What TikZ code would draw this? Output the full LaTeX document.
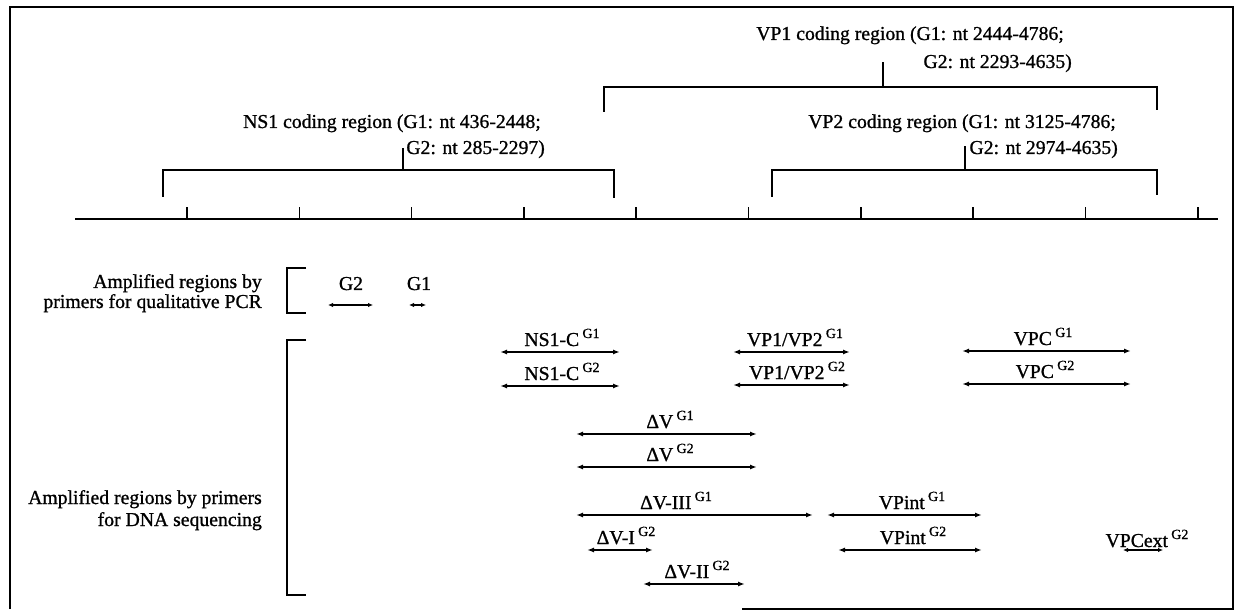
\documentclass[tikz,border=0pt]{standalone}
\usepackage{fontspec}
\setmainfont{Liberation Serif}[FakeBold=1]
\usetikzlibrary{arrows.meta}
\newcommand\gs[1]{\,\raisebox{8pt}{\fontsize{14pt}{14pt}\selectfont #1}}
\begin{document}
\begin{tikzpicture}[x=1pt,y=-1pt,
  txt/.style={font=\fontsize{19.7pt}{24pt}\selectfont, inner sep=0pt},
  lbl/.style={txt, anchor=base},
  rtxt/.style={txt, anchor=base east},
  rng/.style={line width=1.8pt, {Latex[length=7pt,width=5pt]}-{Latex[length=7pt,width=5pt]}},
  srng/.style={line width=1.8pt, {Latex[length=5pt,width=4.5pt]}-{Latex[length=5pt,width=4.5pt]}},
  brk/.style={line width=1.7pt},
  axisline/.style={line width=2.6pt},
  tick/.style={line width=1.6pt},
  frame/.style={line width=1.6pt}]
\useasboundingbox (0,0) rectangle (1237,612);

\newcommand\rarr[6]{%
  \coordinate (#1-l) at (#2,#4);
  \coordinate (#1-r) at (#3,#4);
  \draw[rng] (#1-l) -- (#1-r);
  \node[lbl] (#1-t) at (#5,#4-6) {#6};
}

% frame
\coordinate (f1) at (10,609);
\coordinate (f2) at (10,7);
\coordinate (f3) at (1233,7);
\coordinate (f4) at (1233,609);
\coordinate (f5) at (742,609);
\draw[frame] (f1) -- (f2) -- (f3) -- (f4) -- (f5);

% top texts
\node[rtxt] (ns1a) at (541,128) {NS1 coding region (G1: nt 436-2448;};
\node[rtxt] (ns1b) at (545,154) {G2: nt 285-2297)};
\node[rtxt] (vp1a) at (1064,40) {VP1 coding region (G1: nt 2444-4786;};
\node[rtxt] (vp1b) at (1072,68) {G2: nt 2293-4635)};
\node[rtxt] (vp2a) at (1116,128) {VP2 coding region (G1: nt 3125-4786;};
\node[rtxt] (vp2b) at (1118,154) {G2: nt 2974-4635)};

% coding-region brackets
\coordinate (nsL) at (163,197); \coordinate (nsLt) at (163,170);
\coordinate (nsR) at (614,198); \coordinate (nsRt) at (614,170);
\coordinate (nsS) at (403,170); \coordinate (nsSt) at (403,148);
\draw[brk] (nsL) -- (nsLt) -- (nsRt) -- (nsR);
\draw[brk] (nsS) -- (nsSt);

\coordinate (v1L) at (604,112); \coordinate (v1Lt) at (604,87);
\coordinate (v1R) at (1157,110); \coordinate (v1Rt) at (1157,87);
\coordinate (v1S) at (883,87); \coordinate (v1St) at (883,62);
\draw[brk] (v1L) -- (v1Lt) -- (v1Rt) -- (v1R);
\draw[brk] (v1S) -- (v1St);

\coordinate (v2L) at (772,197); \coordinate (v2Lt) at (772,170);
\coordinate (v2R) at (1157,195); \coordinate (v2Rt) at (1157,170);
\coordinate (v2S) at (965,170); \coordinate (v2St) at (965,146);
\draw[brk] (v2L) -- (v2Lt) -- (v2Rt) -- (v2R);
\draw[brk] (v2S) -- (v2St);

% genome axis
\coordinate (axL) at (75,219);
\coordinate (axR) at (1218,219);
\draw[axisline] (axL) -- (axR);
\foreach \i in {0,...,9} {
  \coordinate (tk\i b) at ({187+112.3*\i},219);
  \coordinate (tk\i t) at ({187+112.3*\i},207);
  \draw[tick] (tk\i b) -- (tk\i t);
}

% left labels and brackets
\node[rtxt] (qa) at (262,288) {Amplified regions by};
\node[rtxt] (qb) at (262,308) {primers for qualitative PCR};
\node[rtxt] (sa) at (262,504) {Amplified regions by primers};
\node[rtxt] (sb) at (262,526) {for DNA sequencing};

\coordinate (qb1) at (306,268); \coordinate (qb2) at (287,268);
\coordinate (qb3) at (287,313); \coordinate (qb4) at (306,313);
\draw[brk] (qb1) -- (qb2) -- (qb3) -- (qb4);
\coordinate (sb1) at (306,340); \coordinate (sb2) at (287,340);
\coordinate (sb3) at (287,595); \coordinate (sb4) at (306,595);
\draw[brk] (sb1) -- (sb2) -- (sb3) -- (sb4);

% qualitative PCR amplicons
\coordinate (g2l) at (328,305); \coordinate (g2r) at (373,305);
\draw[srng] (g2l) -- (g2r);
\node[lbl] (g2t) at (351,290) {G2};
\coordinate (g1l) at (409,305); \coordinate (g1r) at (426,305);
\draw[srng] (g1l) -- (g1r);
\node[lbl] (g1t) at (419,290) {G1};

% sequencing amplicons
\rarr{ncg1}{500}{620}{352}{562}{NS1-C\gs{G1}}
\rarr{ncg2}{500}{620}{386}{562}{NS1-C\gs{G2}}
\rarr{vpg1}{733}{850}{352}{795}{VP1/VP2\gs{G1}}
\rarr{vpg2}{733}{850}{385}{797}{VP1/VP2\gs{G2}}
\rarr{vcg1}{962}{1131}{351}{1043}{VPC\gs{G1}}
\rarr{vcg2}{962}{1131}{384}{1045}{VPC\gs{G2}}
\rarr{dvg1}{576}{757}{434}{670}{ΔV\gs{G1}}
\rarr{dvg2}{576}{757}{467}{670}{ΔV\gs{G2}}
\rarr{dv3}{576}{813}{515}{676}{ΔV-III\gs{G1}}
\rarr{vig1}{827}{982}{515}{912}{VPint\gs{G1}}
\rarr{dv1}{587}{653}{550}{626}{ΔV-I\gs{G2}}
\rarr{vig2}{838}{982}{550}{913}{VPint\gs{G2}}
\rarr{dv2}{643}{745}{584}{697}{ΔV-II\gs{G2}}

\coordinate (vel) at (1123,550); \coordinate (ver) at (1163,550);
\draw[srng] (vel) -- (ver);
\node[lbl] (vet) at (1147,547) {VPCext\gs{G2}};
\end{tikzpicture}
\end{document}
